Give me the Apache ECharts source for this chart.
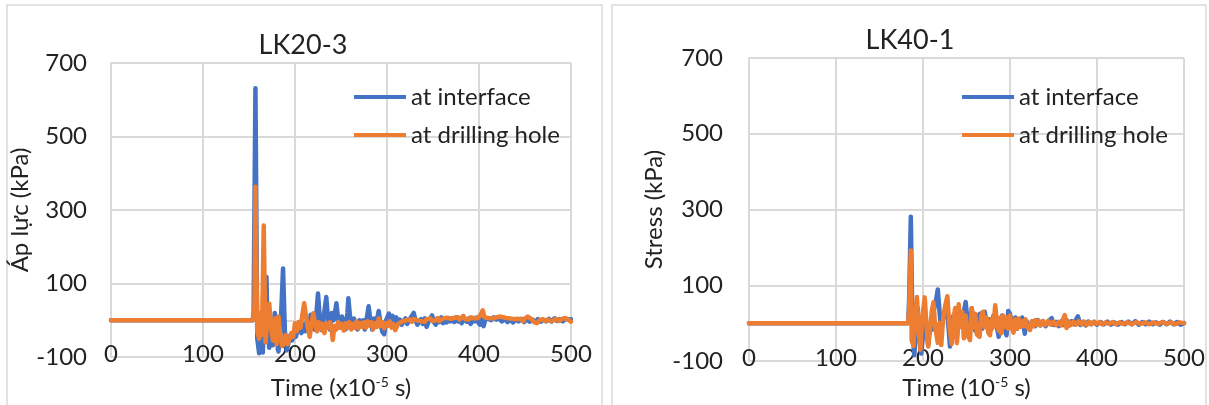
<!DOCTYPE html>
<html>
<head>
<meta charset="utf-8">
<title>LK20-3 / LK40-1</title>
<script src="https://cdn.jsdelivr.net/npm/echarts@6/dist/echarts.min.js"></script>
<style>
  html, body { margin: 0; padding: 0; background: #fff; }
  #main { width: 1209px; height: 405px; }
</style>
</head>
<body>
<div id="main"></div>
<script>
// 数据 - 读自原图 (time x10^-5 s, kPa)
var xTicks = [0, 100, 200, 300, 400, 500]
var yTicks = [-100, 100, 300, 500, 700]
var seriesNames = ['at interface', 'at drilling hole']

// LK20-3 at interface
var lk20Interface = [
  [0, 0], [154, 0], [155, 20], [157, 631], [159, -50], [161, -90], [163, -50], [165, -88], [167, 40], [169, 118],
  [170, -20], [172, -75], [174, -20], [176, -68], [178, 20], [180, -50], [182, -85], [184, -40], [186, 80], [187, 141],
  [189, -30], [191, -82], [193, -60], [195, -40], [197, -55], [199, -35], [201, -45], [203, -25], [205, -18], [207, -35],
  [209, -10], [211, -30], [213, 0], [215, -20], [217, 15], [219, -10], [221, -25], [223, 10], [225, 73], [227, 5],
  [229, -27], [231, 5], [234, 63], [236, 0], [238, -25], [240, 20], [242, 0], [245, 46], [247, 0], [249, -20],
  [251, 10], [253, -5], [255, -25], [257, 20], [258, 60], [260, 5], [262, -22], [264, 5], [266, -12], [268, -25],
  [270, 0], [272, -15], [274, 0], [276, -25], [278, 5], [280, 38], [282, 0], [284, -25], [286, 5], [288, -12],
  [291, 25], [293, -10], [295, -32], [297, -38], [299, 0], [302, 18], [304, 0], [306, 12], [308, -5], [310, 8],
  [312, -10], [314, 2], [316, -12], [318, -3], [320, 5], [322, -10], [324, 0], [326, -5], [329, 20], [331, 0],
  [333, -12], [335, -15], [337, 3], [339, -10], [341, 5], [343, -18], [345, -5], [347, 5], [349, 13], [351, -5],
  [353, -12], [355, 3], [357, -5], [359, 8], [361, -8], [363, 2], [365, -6], [367, 6], [369, -3], [371, 5],
  [373, -5], [375, 8], [377, -3], [379, 4], [381, -8], [383, 2], [385, 7], [387, -4], [389, 5], [391, -10],
  [393, 3], [395, -3], [397, 7], [399, -5], [401, -12], [403, 3], [405, -16], [407, 2], [410, 5], [413, 0],
  [416, 8], [419, 2], [422, 5], [425, -3], [428, 4], [431, -5], [434, 3], [437, -6], [440, 2], [443, -3],
  [446, 4], [449, -5], [452, 3], [455, -4], [458, 2], [461, -5], [464, 3], [467, -4], [470, 2], [473, -3],
  [476, 4], [479, -3], [482, 5], [485, -2], [488, 3], [491, -3], [494, 5], [497, 2], [500, 3]
]

// LK20-3 at drilling hole
var lk20Hole = [
  [0, 0], [154, 0], [156, 40], [157, 363], [158, 150], [159, -30], [161, -50], [163, 20], [164, -40], [165, 100],
  [166, 258], [167, 90], [168, -60], [170, 0], [172, 45], [174, -20], [176, -55], [178, 5], [180, -65], [182, 10],
  [184, -40], [186, -70], [188, -63], [190, -40], [192, -65], [194, -50], [196, -35], [198, -45], [200, -8], [202, -30],
  [204, -5], [206, -20], [208, 15], [210, 46], [212, 10], [214, -20], [216, -45], [218, -5], [220, 19], [222, -15],
  [224, -30], [226, -5], [228, -25], [230, -10], [232, -35], [234, -8], [236, -20], [238, -5], [240, -30], [241, -54],
  [243, -15], [245, -25], [247, -5], [249, -20], [251, -10], [253, -28], [255, -8], [257, -20], [259, -5], [261, -25],
  [263, -10], [265, -20], [267, -3], [269, -22], [271, -8], [273, -18], [275, -5], [277, -20], [279, -3], [281, -15],
  [283, -5], [285, -25], [287, -8], [289, -18], [291, 5], [293, -15], [295, -5], [297, -22], [299, -8], [301, -15],
  [303, -3], [305, -20], [307, -10], [309, -27], [311, -15], [313, -8], [315, -12], [317, -3], [319, -8], [321, 0],
  [323, -5], [325, 2], [327, -4], [329, 3], [331, -2], [333, 0], [335, 4], [337, -3], [339, 2], [341, -4],
  [343, 3], [345, 0], [347, 5], [349, -2], [351, 3], [353, 0], [355, 6], [357, -2], [359, 3], [361, 5],
  [363, 0], [365, 7], [367, 2], [369, 4], [371, 0], [373, 6], [375, 3], [377, 8], [379, 2], [381, 5],
  [383, 12], [385, 3], [387, 6], [389, 2], [391, 8], [393, 3], [395, 5], [397, 2], [399, 6], [401, 10],
  [403, 20], [404, 27], [406, 8], [408, 3], [410, 6], [412, 2], [414, 5], [416, 3], [418, 7], [420, 4],
  [422, 10], [424, 5], [426, 8], [428, 3], [430, 6], [432, 2], [434, 5], [436, 0], [438, 3], [440, -2],
  [442, 4], [444, 0], [446, 3], [448, -3], [450, 5], [453, 10], [455, 13], [457, 3], [460, -5], [463, -8],
  [466, 0], [469, 3], [472, -2], [475, 2], [478, -3], [481, 0], [484, 4], [487, -2], [490, 3], [493, 6],
  [495, 8], [497, 2], [500, -4]
]

// LK40-1 at interface
var lk40Interface = [
  [0, 0], [183, 0], [184, 60], [186, 281], [188, -30], [190, -85], [192, -20], [194, 40], [196, -40], [198, -80],
  [200, -30], [202, 40], [204, -20], [206, -60], [208, 0], [210, -18], [212, 30], [215, 60], [217, 89], [219, 30],
  [221, -20], [223, 10], [226, 40], [228, 30], [231, -62], [233, -10], [235, 20], [237, 10], [239, -40], [241, 20],
  [244, 10], [247, 30], [249, 56], [251, 10], [253, -30], [256, 39], [258, 0], [260, -20], [263, 20], [266, 25],
  [268, -15], [271, 30], [273, 0], [275, -20], [277, 10], [279, -15], [281, 20], [283, 10], [285, -10], [287, -36],
  [289, 0], [291, 20], [293, -10], [296, -32], [298, 32], [300, 25], [302, 0], [304, -10], [306, 15], [308, -15],
  [310, 10], [312, -5], [314, 15], [317, -28], [319, 5], [321, 10], [323, -10], [326, 5], [329, -8], [332, 8],
  [335, -6], [338, 5], [341, -8], [344, 5], [348, 13], [350, -5], [353, 3], [356, -8], [359, 5], [362, -5],
  [365, 8], [368, -6], [371, 5], [374, -3], [376, 10], [378, 18], [381, -5], [384, 3], [387, -6], [390, 4],
  [393, -3], [396, 3], [400, -4], [404, 3], [408, -3], [412, 4], [416, -4], [420, 2], [424, -4], [428, 3],
  [432, -3], [436, 4], [440, -3], [444, 5], [448, -4], [452, 3], [456, -3], [460, 4], [464, -3], [468, 2],
  [472, -4], [476, 3], [480, -3], [484, 4], [488, -3], [492, 3], [496, -4], [500, 0]
]

// LK40-1 at drilling hole
var lk40Hole = [
  [0, 0], [183, 0], [184, 40], [186, 192], [187, -45], [189, -60], [191, 20], [193, 69], [195, -20], [197, -70],
  [199, 10], [202, 68], [204, -10], [206, -62], [208, -20], [210, 30], [212, 55], [214, -10], [217, -52], [219, 0],
  [221, -58], [223, 10], [225, 40], [228, 71], [230, 0], [233, -55], [235, 10], [237, 40], [239, -53], [241, 50],
  [243, -10], [245, 30], [247, -40], [249, 20], [251, -30], [254, -45], [256, 39], [258, -10], [260, 25], [262, -30],
  [265, -36], [267, 20], [269, 30], [271, -10], [273, 15], [275, -25], [277, -32], [279, 10], [281, -10], [283, 47],
  [285, 0], [287, -20], [289, 15], [290, -27], [292, 20], [294, -10], [296, 15], [298, -15], [300, 20], [302, -10],
  [304, -25], [306, 10], [308, -15], [310, 12], [312, -10], [314, 5], [316, -8], [318, 10], [320, -10], [323, -18],
  [325, 5], [327, -8], [329, 8], [331, -5], [333, 6], [335, -6], [338, 5], [341, -5], [344, 6], [347, -4],
  [350, 4], [353, -5], [356, 3], [359, -6], [361, 10], [363, 21], [365, -13], [367, 5], [370, -5], [373, 4],
  [376, -4], [379, 5], [382, -3], [385, 4], [388, -5], [391, 3], [394, -3], [397, 4], [400, -2], [403, 3],
  [406, -3], [410, 2], [414, -2], [418, 3], [422, -3], [426, 2], [430, -2], [435, 2], [440, -3], [445, 3],
  [450, -2], [455, 2], [460, -3], [465, 2], [470, -2], [475, 3], [480, -2], [485, 2], [490, -3], [495, 2],
  [500, 0]
]

var FONT = 'Lato, "Noto Sans", sans-serif'
var GRID_COLOR = '#d9d9d9'
var BLUE = '#4472c4'
var ORANGE = '#ed7d31'

let mychart = echarts.init(document.getElementById('main'))

// 坐标轴公共样式
function makeXAxis (gridIndex, name, nameGap) {
  return {
    type: 'value',
    gridIndex: gridIndex,
    min: xTicks[0],
    max: xTicks[xTicks.length - 1],
    interval: xTicks[1] - xTicks[0],
    name: name,
    nameLocation: 'middle',
    nameGap: nameGap,
    nameTextStyle: {
      color: '#222',
      fontSize: 24,
      fontFamily: FONT,
      rich: {
        sup: { fontSize: 14, fontFamily: FONT, color: '#222', verticalAlign: 'top', padding: [0, 0, 12, 0] }
      }
    },
    axisLine: { lineStyle: { color: GRID_COLOR, width: 2 } },
    axisTick: { show: false },
    axisLabel: { color: '#222', fontSize: 24, fontFamily: FONT, margin: -15 },
    splitLine: { lineStyle: { color: GRID_COLOR, width: 2 } }
  }
}

function makeYAxis (gridIndex, name, nameGap, margin) {
  return {
    type: 'value',
    gridIndex: gridIndex,
    min: yTicks[0],
    max: yTicks[yTicks.length - 1],
    interval: yTicks[1] - yTicks[0],
    name: name,
    nameLocation: 'middle',
    nameGap: nameGap,
    nameTextStyle: { color: '#222', fontSize: 24, fontFamily: FONT },
    axisLine: { show: true, lineStyle: { color: GRID_COLOR, width: 2 } },
    axisTick: { show: false },
    axisLabel: { color: '#222', fontSize: 24, fontFamily: FONT, margin: margin },
    splitLine: { lineStyle: { color: GRID_COLOR, width: 2 } }
  }
}

function makeLine (name, idx, data, color) {
  return {
    name: name,
    type: 'line',
    xAxisIndex: idx,
    yAxisIndex: idx,
    data: data,
    showSymbol: false,
    color: color,
    lineStyle: { color: color, width: 4.5, join: 'round', cap: 'round' }
  }
}

function makeLegend (left) {
  return {
    orient: 'vertical',
    left: left,
    top: 85,
    padding: 0,
    itemGap: 14,
    itemWidth: 52,
    itemHeight: 4,
    icon: 'rect',
    data: seriesNames,
    textStyle: { color: '#222', fontSize: 24, fontFamily: FONT, padding: [0, 0, 0, 0] }
  }
}

let option = {
  animation: false,
  backgroundColor: '#fff',
  grid: [
    { left: 111, top: 63, width: 460, height: 294 },
    { left: 749, top: 58, width: 435, height: 303 }
  ],
  legend: [makeLegend(354), makeLegend(962)],
  xAxis: [
    makeXAxis(0, 'Time (x10{sup|-5} s)', 18),
    makeXAxis(1, 'Time (10{sup|-5} s)', 14)
  ],
  yAxis: [
    makeYAxis(0, 'Áp lực (kPa)', 67, 24),
    makeYAxis(1, 'Stress (kPa)', 83, 26)
  ],
  series: [
    makeLine(seriesNames[0], 0, lk20Interface, BLUE),
    makeLine(seriesNames[1], 0, lk20Hole, ORANGE),
    makeLine(seriesNames[0], 1, lk40Interface, BLUE),
    makeLine(seriesNames[1], 1, lk40Hole, ORANGE)
  ],
  graphic: [
    // 外框
    { type: 'rect', shape: { x: 7, y: 5, width: 595, height: 410 }, style: { fill: 'none', stroke: GRID_COLOR, lineWidth: 1.5 }, silent: true },
    { type: 'rect', shape: { x: 612, y: 5, width: 594, height: 410 }, style: { fill: 'none', stroke: GRID_COLOR, lineWidth: 1.5 }, silent: true },
    // 标题
    { type: 'text', x: 303, y: 45, style: { text: 'LK20-3', font: '27px ' + FONT, fill: '#222', align: 'center', verticalAlign: 'middle' } },
    { type: 'text', x: 910, y: 40, style: { text: 'LK40-1', font: '27px ' + FONT, fill: '#222', align: 'center', verticalAlign: 'middle' } }
  ]
}
mychart.setOption(option)
</script>
</body>
</html>
